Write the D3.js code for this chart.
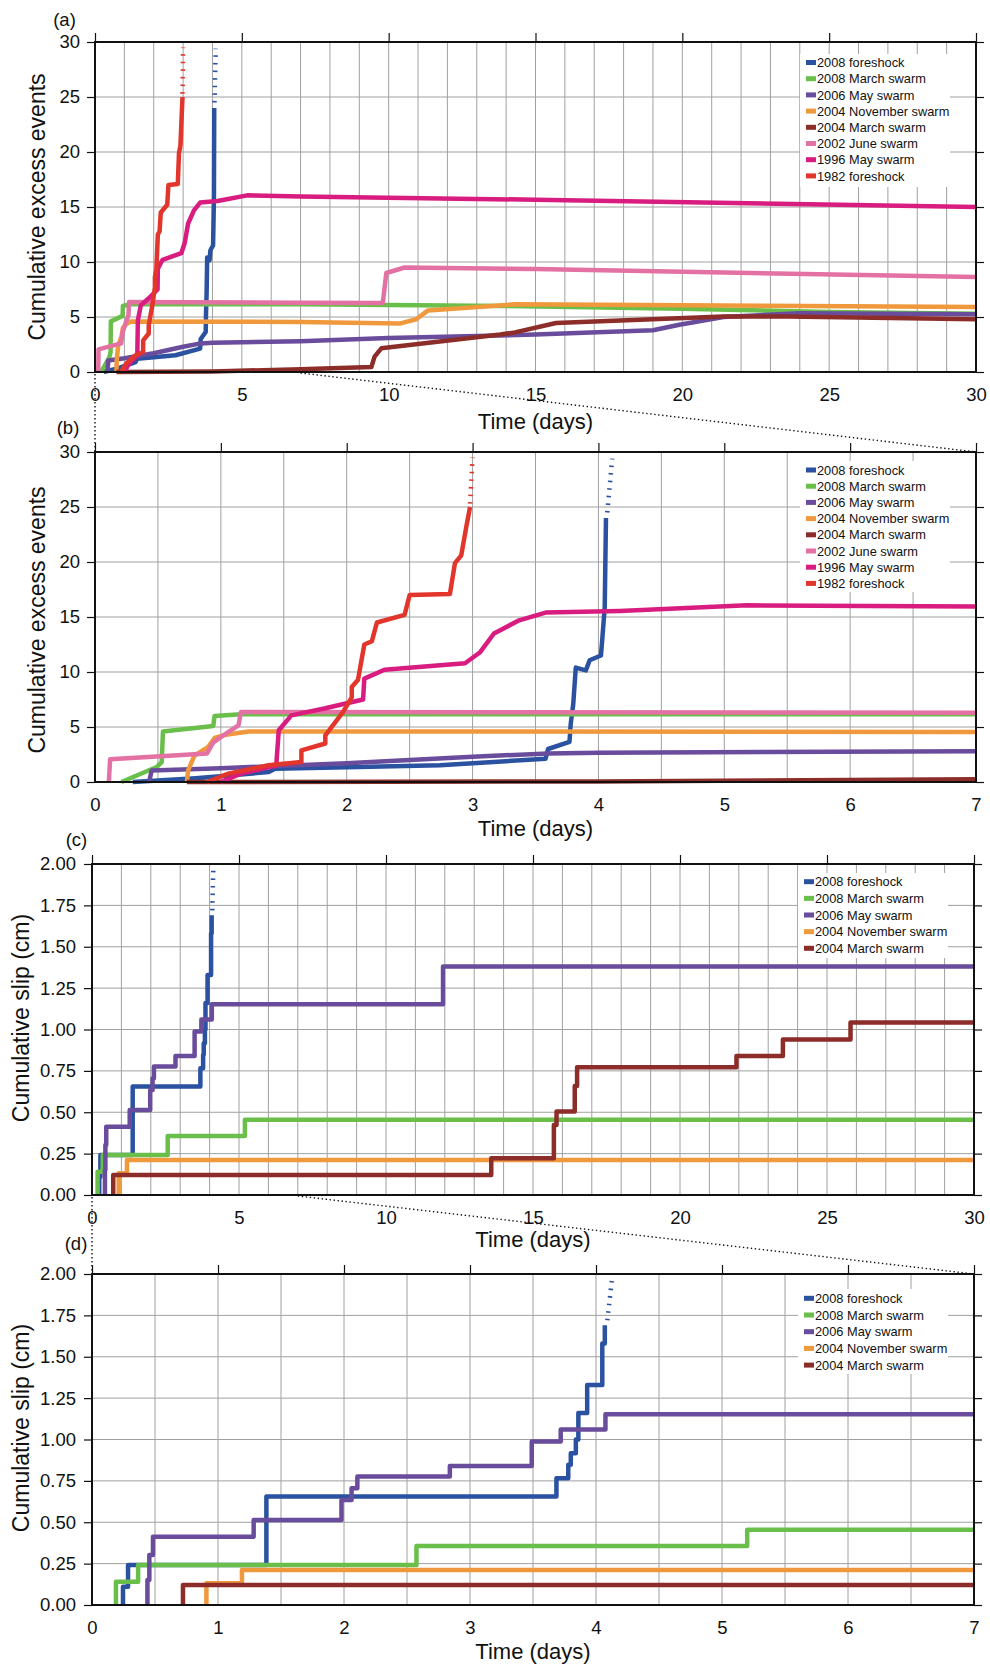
<!DOCTYPE html>
<html><head><meta charset="utf-8">
<script src="https://cdn.jsdelivr.net/npm/d3@7"></script>
<style>
body{margin:0;background:#fff}
svg{display:block}
text{font-family:"Liberation Sans",Arial,Helvetica,sans-serif;fill:#111}
</style>
</head><body>
<svg id="chart" width="990" height="1670"></svg>
<script>
// ---------- DATA ----------
const excessNames = ["2008 foreshock","2008 March swarm","2006 May swarm","2004 November swarm","2004 March swarm","2002 June swarm","1996 May swarm","1982 foreshock"];
const slipNames = ["2008 foreshock","2008 March swarm","2006 May swarm","2004 November swarm","2004 March swarm"];
const seriesColors = ["#2a52a0","#6abf4b","#6a4c9c","#f0983c","#8c2d2a","#e471a3","#d91c7f","#e2352b"];

const xTicks30 = [0,5,10,15,20,25,30];
const xTicks7 = [0,1,2,3,4,5,6,7];
const yTicksEvents = [0,5,10,15,20,25,30];
const yTicksSlip = [0,0.25,0.5,0.75,1.0,1.25,1.5,1.75,2.0];

// cumulative excess events: [time (days), events]
const ev2008Foreshock = [[0.30,0],[0.8,0.35],[1.38,0.9],[1.43,1.2],[2.0,1.35],[2.74,1.52],[3.58,2.12],[3.6,3.0],[3.77,3.64],[3.78,5.3],[3.80,7.1],[3.82,10.4],[3.90,10.15],[3.93,11.07],[4.02,11.5],[4.03,12.9],[4.05,15.9],[4.06,24.0]];
const ev2008ForeshockTail = [[4.07,24.5],[4.11,29.4]];
const ev2008March = [[0.21,0],[0.49,1.36],[0.53,1.8],[0.54,4.6],[0.94,5.1],[0.95,6.0],[1.16,6.15],[7,6.15],[14,6.0],[20,5.75],[25,5.45],[30,5.3]];
const ev2006May = [[0.43,0],[0.45,1.05],[1.0,1.25],[2.0,1.7],[3.0,2.3],[3.6,2.6],[4.0,2.67],[7,2.8],[10,3.1],[15,3.4],[19,3.8],[19.9,4.3],[21.4,5.0],[24,5.35],[30,5.25]];
const ev2004November = [[0.73,0],[0.74,1.06],[0.79,2.4],[0.9,3.2],[0.95,4.0],[1.04,4.3],[1.22,4.6],[7,4.55],[10.37,4.4],[10.94,4.8],[11.34,5.6],[14.3,6.15],[30,5.9]];
const ev2004March = [[0.73,0],[4,0.05],[7,0.25],[9.41,0.45],[9.52,1.4],[9.75,2.15],[13.8,3.4],[14.3,3.6],[15.7,4.45],[21.4,5.05],[23.6,5.05],[30,4.8]];
const ev2002June = [[0.11,0],[0.12,2.06],[0.89,2.6],[0.94,3.6],[1.04,4.4],[1.14,5.15],[1.16,6.36],[7,6.3],[9.8,6.27],[9.92,9.0],[10.54,9.5],[15,9.36],[30,8.63]];
const ev1996May = [[1.0,0],[1.16,0.76],[1.44,1.5],[1.46,4.7],[1.56,6.06],[1.83,6.7],[2.13,7.5],[2.14,9.4],[2.30,10.2],[2.94,10.8],[3.06,11.8],[3.17,13.5],[3.37,14.7],[3.58,15.4],[4.17,15.55],[5.18,16.06],[7,15.95],[15,15.66],[30,15.0]];
const ev1982Foreshock = [[0.89,0],[1.06,0.76],[1.38,1.52],[1.64,1.82],[1.64,2.88],[1.83,3.5],[1.83,4.24],[1.97,6.36],[2.04,7.7],[2.04,8.64],[2.09,9.3],[2.14,12.5],[2.20,12.8],[2.24,14.5],[2.46,15.2],[2.5,17.0],[2.82,17.1],[2.86,19.9],[2.91,20.6],[2.95,23.2],[2.98,25.0]];
const ev1982ForeshockTail = [[2.98,25.3],[3.0,29.5]];

// cumulative slip (cm): step points [time (days), slip]
const slip2008Foreshock = [[0.246,0],[0.246,0.11],[0.286,0.242],[1.384,0.655],[3.686,0.766],[3.78,0.847],[3.80,0.917],[3.84,1.0],[3.86,1.16],[3.93,1.33],[4.05,1.58],[4.07,1.69]];
const slip2008ForeshockTail = [[4.09,1.72],[4.13,1.99]];
const slip2008March = [[0.19,0],[0.19,0.141],[0.366,0.242],[2.575,0.357],[5.2,0.454],[30,0.454]];
const slip2006May = [[0.44,0],[0.44,0.151],[0.455,0.302],[0.484,0.413],[1.283,0.514],[1.98,0.635],[2.06,0.706],[2.106,0.776],[2.84,0.84],[3.49,0.988],[3.72,1.06],[4.075,1.153],[11.94,1.38],[30,1.38]];
const slip2004November = [[0.908,0],[0.908,0.131],[1.19,0.212],[30,0.212]];
const slip2004March = [[0.722,0],[0.722,0.121],[13.58,0.222],[15.71,0.423],[15.8,0.504],[16.42,0.659],[16.5,0.772],[21.92,0.84],[23.5,0.94],[25.8,1.042],[30,1.042]];

const excessSeries = [ev2008Foreshock, ev2008March, ev2006May, ev2004November, ev2004March, ev2002June, ev1996May, ev1982Foreshock];
const excessTails = [{data: ev2008ForeshockTail, idx: 0}, {data: ev1982ForeshockTail, idx: 7}];
const slipSeries = [slip2008Foreshock, slip2008March, slip2006May, slip2004November, slip2004March];
const slipTails = [{data: slip2008ForeshockTail, idx: 0}];

// ---------- DRAW ----------
const svg = d3.select("#chart");
svg.append("rect").attr("width",990).attr("height",1670).attr("fill","#fff");
let clipId = 0;

function panel(o) {
  const x = d3.scaleLinear().domain([0, o.xMax]).range([o.left, o.right]);
  const y = d3.scaleLinear().domain([0, o.yMax]).range([o.bottom, o.top]);
  const g = svg.append("g");

  // grid
  g.append("g").selectAll("line").data(d3.range(0, o.xMax + 1e-9, o.xMinor)).join("line")
    .attr("x1", d => x(d)).attr("x2", d => x(d)).attr("y1", o.top).attr("y2", o.bottom)
    .attr("stroke", "#a0a0a0").attr("stroke-width", 1);
  g.append("g").selectAll("line").data(o.yTicks).join("line")
    .attr("x1", o.left).attr("x2", o.right).attr("y1", d => y(d)).attr("y2", d => y(d))
    .attr("stroke", "#a0a0a0").attr("stroke-width", 1);

  // lines
  const id = "clip" + (clipId++);
  svg.append("clipPath").attr("id", id).append("rect")
    .attr("x", o.left).attr("y", o.top - 6).attr("width", o.right - o.left).attr("height", o.bottom - o.top + 9);
  const lg = g.append("g").attr("clip-path", `url(#${id})`);
  const line = d3.line().x(d => x(d[0])).y(d => y(d[1])).curve(o.curve);
  o.series.forEach((s, i) => {
    lg.append("path").attr("d", line(s)).attr("fill", "none")
      .attr("stroke", seriesColors[i]).attr("stroke-width", 4.5)
      .attr("stroke-linejoin", "round");
  });
  const tailLine = d3.line().x(d => x(d[0])).y(d => y(d[1]));
  o.tails.forEach(t => {
    lg.append("path").attr("d", tailLine(t.data)).attr("fill", "none")
      .attr("stroke", seriesColors[t.idx]).attr("stroke-width", 4.5)
      .attr("stroke-dasharray", "1.6,6");
  });

  // legend
  const leg = g.append("g");
  leg.append("rect").attr("x", o.legX).attr("y", o.legTop).attr("width", o.legW)
    .attr("height", o.legH).attr("fill", "#fff");
  o.names.forEach((n, i) => {
    const cy = o.legRow0 + i * o.legStep;
    leg.append("rect").attr("x", o.legX + 6).attr("y", cy - 2.5).attr("width", 10).attr("height", 5)
      .attr("fill", seriesColors[i]);
    leg.append("text").attr("x", o.legX + 17).attr("y", cy).attr("dy", "0.36em")
      .attr("font-size", 12.8).text(n);
  });

  // axes
  const yAx = g.append("g").attr("transform", `translate(${o.left},0)`)
    .call(d3.axisLeft(y).tickValues(o.yTicks).tickSize(8).tickPadding(o.yPad).tickFormat(o.yFmt));
  yAx.select(".domain").remove();
  yAx.selectAll("line").attr("stroke", "#111").attr("stroke-width", 1.2);
  yAx.selectAll("text").attr("font-size", 18.5).attr("fill", "#111");

  const rAx = g.append("g").attr("transform", `translate(${o.right},0)`)
    .call(d3.axisRight(y).tickValues(o.yTicks).tickSize(8).tickFormat(""));
  rAx.select(".domain").remove();
  rAx.selectAll("line").attr("stroke", "#111").attr("stroke-width", 1.2);

  const tAx = g.append("g").attr("transform", `translate(0,${o.top})`)
    .call(d3.axisTop(x).tickValues(o.xTicks).tickSize(9).tickFormat(""));
  tAx.select(".domain").remove();
  tAx.selectAll("line").attr("stroke", "#111").attr("stroke-width", 1.2);

  const bAx = g.append("g").attr("transform", `translate(0,${o.bottom})`)
    .call(d3.axisBottom(x).tickValues(o.xTicks).tickSize(0).tickPadding(16).tickFormat(d3.format("d")));
  bAx.select(".domain").remove();
  bAx.selectAll("text").attr("font-size", 18.5).attr("fill", "#111");

  // frame
  g.append("rect").attr("x", o.left).attr("y", o.top).attr("width", o.right - o.left)
    .attr("height", o.bottom - o.top).attr("fill", "none").attr("stroke", "#111").attr("stroke-width", 2);

  // labels
  g.append("text").attr("x", (o.left + o.right) / 2).attr("y", o.xLabelY)
    .attr("text-anchor", "middle").attr("font-size", 22).text("Time (days)");
  g.append("text").attr("transform", `translate(${o.yLabelX},${o.yLabelY}) rotate(-90)`)
    .attr("dy", "0.35em").attr("text-anchor", "middle").attr("font-size", 23).text(o.yLabel);
  g.append("text").attr("x", o.tagX).attr("y", o.tagY).attr("text-anchor", "middle")
    .attr("font-size", 18.5).text(o.tag);
  return {x, y};
}

const pa = panel({tag:"(a)", tagX:64.5, tagY:25.5, left:95, right:976, top:42, bottom:372, xMax:30, yMax:30,
  xMinor:1, xTicks:xTicks30, yTicks:yTicksEvents, yFmt:d3.format("d"), yPad:7,
  series:excessSeries, tails:excessTails, curve:d3.curveLinear, names:excessNames,
  legX:800, legTop:54, legW:150, legH:133, legRow0:62.5, legStep:16.2,
  xLabelY:429, yLabelX:37, yLabelY:207, yLabel:"Cumulative excess events"});
const pb = panel({tag:"(b)", tagX:68, tagY:433.5, left:95, right:976, top:452, bottom:782, xMax:7, yMax:30,
  xMinor:0.5, xTicks:xTicks7, yTicks:yTicksEvents, yFmt:d3.format("d"), yPad:7,
  series:excessSeries, tails:excessTails, curve:d3.curveLinear, names:excessNames,
  legX:800, legTop:461, legW:150, legH:131, legRow0:470, legStep:16.2,
  xLabelY:835.5, yLabelX:37, yLabelY:620, yLabel:"Cumulative excess events"});
const pc = panel({tag:"(c)", tagX:76.5, tagY:846, left:92, right:974, top:864, bottom:1195, xMax:30, yMax:2,
  xMinor:1, xTicks:xTicks30, yTicks:yTicksSlip, yFmt:d3.format(".2f"), yPad:8,
  series:slipSeries, tails:slipTails, curve:d3.curveStepAfter, names:slipNames,
  legX:798, legTop:873, legW:150, legH:85, legRow0:881.7, legStep:16.65,
  xLabelY:1247, yLabelX:21, yLabelY:1018, yLabel:"Cumulative slip (cm)"});
const pd = panel({tag:"(d)", tagX:76, tagY:1249.5, left:92, right:974, top:1274, bottom:1605, xMax:7, yMax:2,
  xMinor:0.5, xTicks:xTicks7, yTicks:yTicksSlip, yFmt:d3.format(".2f"), yPad:8,
  series:slipSeries, tails:slipTails, curve:d3.curveStepAfter, names:slipNames,
  legX:798, legTop:1289, legW:150, legH:85, legRow0:1298.3, legStep:16.7,
  xLabelY:1658.5, yLabelX:21, yLabelY:1428, yLabel:"Cumulative slip (cm)"});

// zoom connectors (dotted)
function connector(xs, ys, xt, yt) {
  svg.append("line").attr("x1", xs).attr("y1", ys).attr("x2", xt).attr("y2", yt)
    .attr("stroke", "#111").attr("stroke-width", 1.4).attr("stroke-dasharray", "1.4,2.6");
}
connector(pa.x(0), pa.y(0) + 2, pb.x(0), pb.y(30));
connector(pa.x(7), pa.y(0) + 1, pb.x(7), pb.y(30));
connector(pc.x(0), pc.y(0) + 2, pd.x(0), pd.y(2));
connector(pc.x(7), pc.y(0) + 1, pd.x(7), pd.y(2));
</script>
</body></html>
